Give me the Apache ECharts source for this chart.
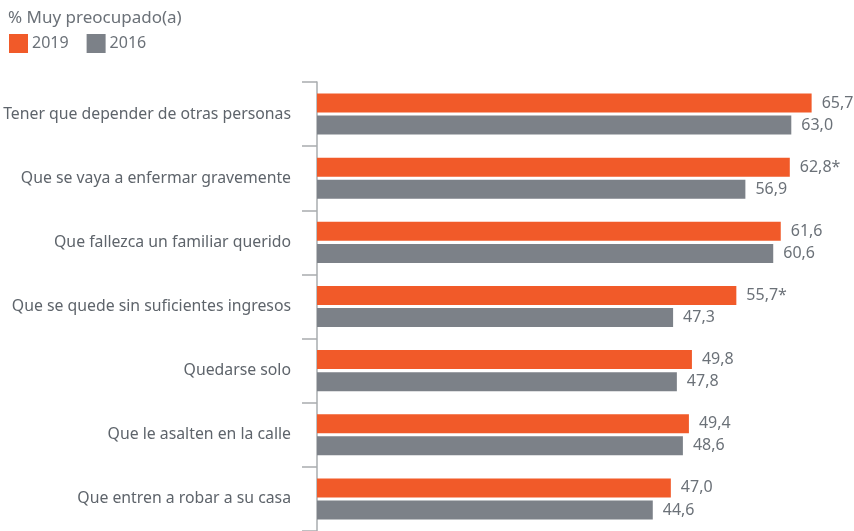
<!DOCTYPE html>
<html>
<head>
<meta charset="utf-8">
<script src="https://cdn.jsdelivr.net/npm/echarts@6/dist/echarts.min.js"></script>
<style>
  html, body { margin: 0; padding: 0; background: #fff; }
  #chart { width: 854px; height: 531px; }
</style>
</head>
<body>
<div id="chart"></div>
<script>
// categorías (de arriba hacia abajo)
var categorias = [
  'Tener que depender de otras personas',
  'Que se vaya a enfermar gravemente',
  'Que fallezca un familiar querido',
  'Que se quede sin suficientes ingresos',
  'Quedarse solo',
  'Que le asalten en la calle',
  'Que entren a robar a su casa'
];
var datos2019 = [65.7, 62.8, 61.6, 55.7, 49.8, 49.4, 47.0];
var datos2016 = [63.0, 56.9, 60.6, 47.3, 47.8, 48.6, 44.6];
// diferencia significativa (asterisco)
var signif2019 = [false, true, false, true, false, false, false];

var naranja = '#F15A29';
var gris = '#7C8188';
var textoGris = '#6B7178';
var fuente = '"Noto Sans", sans-serif';

function fmt(v) {
  return v.toFixed(1).replace('.', ',');
}

var chart = echarts.init(document.getElementById('chart'));
chart.setOption({
  animation: false,
  title: {
    text: '% Muy preocupado(a)',
    left: 3,
    top: 5,
    textStyle: { color: textoGris, fontSize: 17, fontWeight: 'normal', fontFamily: fuente }
  },
  legend: {
    left: 4,
    top: 29,
    itemWidth: 19,
    itemHeight: 19,
    itemGap: 18,
    icon: 'rect',
    data: ['2019', '2016'],
    textStyle: { color: textoGris, fontSize: 16, fontFamily: fuente, padding: [0, 0, 0, -1] }
  },
  grid: {
    left: 317,
    right: 10,
    top: 82,
    bottom: 0
  },
  xAxis: {
    type: 'value',
    min: 0,
    max: 70,
    show: false
  },
  yAxis: {
    type: 'category',
    inverse: true,
    offset: 2,
    data: categorias,
    axisLine: { show: true, lineStyle: { color: '#A9ACAF', width: 1.5 } },
    axisTick: { show: true, length: 15, lineStyle: { color: '#A9ACAF', width: 1.5 } },
    axisLabel: { color: '#5E646B', fontSize: 15.8, fontFamily: fuente, margin: 24 }
  },
  series: [
    {
      name: '2019',
      type: 'bar',
      barWidth: 19,
      barGap: '16%',
      itemStyle: { color: naranja },
      data: datos2019,
      label: {
        show: true,
        position: 'right',
        distance: 10,
        color: textoGris,
        fontSize: 16,
        fontFamily: fuente,
        formatter: function (p) {
          return fmt(p.value) + (signif2019[p.dataIndex] ? '*' : '');
        }
      }
    },
    {
      name: '2016',
      type: 'bar',
      barWidth: 19,
      barGap: '16%',
      itemStyle: { color: gris },
      data: datos2016,
      label: {
        show: true,
        position: 'right',
        distance: 10,
        color: textoGris,
        fontSize: 16,
        fontFamily: fuente,
        formatter: function (p) {
          return fmt(p.value);
        }
      }
    }
  ]
});
</script>
</body>
</html>
